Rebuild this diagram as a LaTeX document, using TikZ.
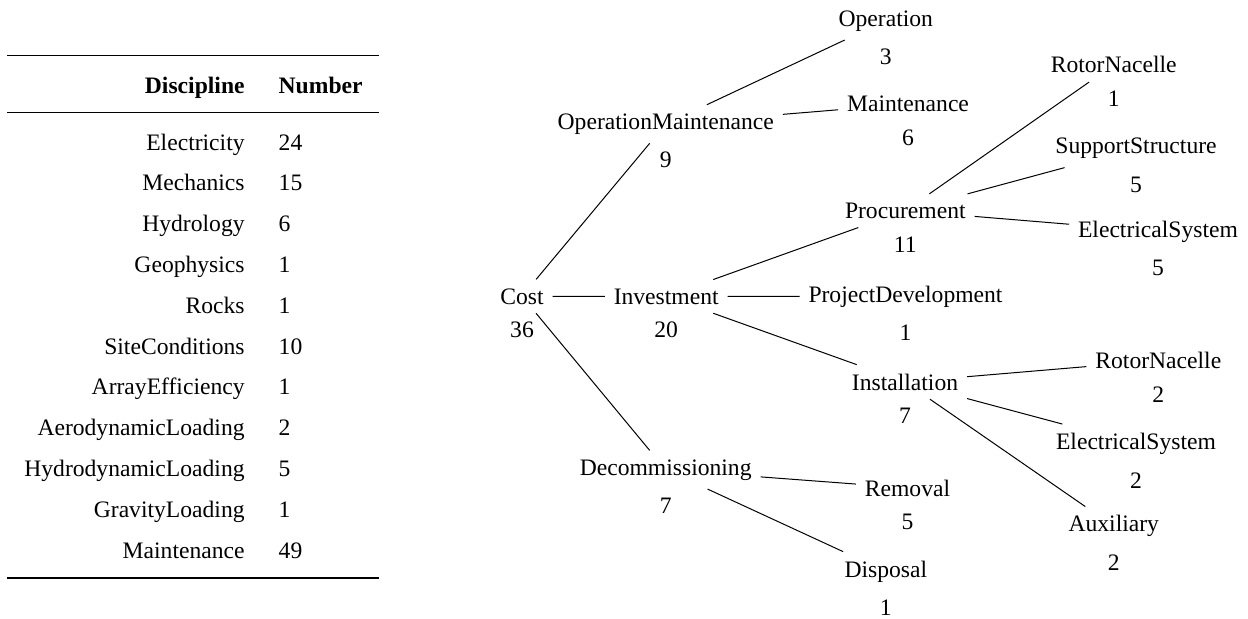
\documentclass[tikz,border=0pt]{standalone}
\usepackage{fontspec}
\setmainfont{Liberation Serif}
\usetikzlibrary{positioning}

\tikzset{
  partnode/.style={inner sep=4.3pt, anchor=base},
  numnode/.style={inner sep=4.3pt},
  cellname/.style={inner sep=0pt, anchor=base east},
  cellnum/.style={inner sep=0pt, anchor=base west},
  treeline/.style={line width=0.5pt}
}

\begin{document}
\begin{tikzpicture}[x=0.5pt, y=-0.5pt, font=\fontsize{11.8}{14}\selectfont]
\useasboundingbox (0,0) rectangle (1248,618);

% table of disciplines
\draw [line width=0.6pt] (7,55.7) -- (379,55.7);
\node (hdisc) [cellname] at (245,93) {\textbf{Discipline}};
\node (hnum) [cellnum] at (278.3,93) {\textbf{Number}};
\draw [line width=0.5pt] (7,112.3) -- (379,112.3);
\node (telec) [cellname] at (245,150) {Electricity};
\node (telecn) [cellnum] at (278.3,150) {24};
\node (tmech) [cellname] at (245,190.8) {Mechanics};
\node (tmechn) [cellnum] at (278.3,190.8) {15};
\node (thydro) [cellname] at (245,231.6) {Hydrology};
\node (thydron) [cellnum] at (278.3,231.6) {6};
\node (tgeo) [cellname] at (245,272.4) {Geophysics};
\node (tgeon) [cellnum] at (278.3,272.4) {1};
\node (trock) [cellname] at (245,313.2) {Rocks};
\node (trockn) [cellnum] at (278.3,313.2) {1};
\node (tsite) [cellname] at (245,354) {SiteConditions};
\node (tsiten) [cellnum] at (278.3,354) {10};
\node (tarray) [cellname] at (245,394.8) {ArrayEfficiency};
\node (tarrayn) [cellnum] at (278.3,394.8) {1};
\node (taero) [cellname] at (245,435.6) {AerodynamicLoading};
\node (taeron) [cellnum] at (278.3,435.6) {2};
\node (thydl) [cellname] at (245,476.4) {HydrodynamicLoading};
\node (thydln) [cellnum] at (278.3,476.4) {5};
\node (tgrav) [cellname] at (245,517.2) {GravityLoading};
\node (tgravn) [cellnum] at (278.3,517.2) {1};
\node (tmaint) [cellname] at (245,558) {Maintenance};
\node (tmaintn) [cellnum] at (278.3,558) {49};
\draw [line width=0.6pt] (7,578) -- (379,578);

% cost tree
\node (cost) [partnode] at (522,304) {Cost};
\node (opmaint) [partnode] at (665.8,129.3) {OperationMaintenance};
\node (invest) [partnode] at (666.2,304) {Investment};
\node (decom) [partnode] at (665.7,475) {Decommissioning};
\node (oper) [partnode] at (885.8,26) {Operation};
\node (maint) [partnode] at (908,111.7) {Maintenance};
\node (proc) [partnode] at (905.3,218.3) {Procurement};
\node (projdev) [partnode] at (905.5,302) {ProjectDevelopment};
\node (inst) [partnode] at (905,390) {Installation};
\node (remove) [partnode] at (907.5,496) {Removal};
\node (dispose) [partnode] at (885.8,577) {Disposal};
\node (procrn) [partnode] at (1113.7,72.9) {RotorNacelle};
\node (procss) [partnode] at (1136,153.6) {SupportStructure};
\node (proces) [partnode] at (1158,237.2) {ElectricalSystem};
\node (instrn) [partnode] at (1158.3,368.6) {RotorNacelle};
\node (instes) [partnode] at (1136,449.4) {ElectricalSystem};
\node (instaux) [partnode] at (1113.8,531.9) {Auxiliary};

% counts under each part
\node (costn) [numnode, below=0pt of cost] {36};
\node (opmaintn) [numnode, below=0pt of opmaint] {9};
\node (investn) [numnode, below=0pt of invest] {20};
\node (decomn) [numnode, below=0pt of decom] {7};
\node (opern) [numnode, below=0pt of oper] {3};
\node (maintn) [numnode, below=0pt of maint] {6};
\node (procn) [numnode, below=0pt of proc] {11};
\node (projdevn) [numnode, below=0pt of projdev] {1};
\node (instn) [numnode, below=0pt of inst] {7};
\node (removen) [numnode, below=0pt of remove] {5};
\node (disposen) [numnode, below=0pt of dispose] {1};
\node (procrnn) [numnode, below=0pt of procrn] {1};
\node (procssn) [numnode, below=0pt of procss] {5};
\node (procesn) [numnode, below=0pt of proces] {5};
\node (instrnn) [numnode, below=0pt of instrn] {2};
\node (instesn) [numnode, below=0pt of instes] {2};
\node (instauxn) [numnode, below=0pt of instaux] {2};

\draw [treeline] (cost) -- (opmaint);
\draw [treeline] (cost) -- (invest);
\draw [treeline] (cost) -- (decom);
\draw [treeline] (opmaint) -- (oper);
\draw [treeline] (opmaint) -- (maint);
\draw [treeline] (invest) -- (proc);
\draw [treeline] (invest) -- (projdev);
\draw [treeline] (invest) -- (inst);
\draw [treeline] (decom) -- (remove);
\draw [treeline] (decom) -- (dispose);
\draw [treeline] (proc) -- (procrn);
\draw [treeline] (proc) -- (procss);
\draw [treeline] (proc) -- (proces);
\draw [treeline] (inst) -- (instrn);
\draw [treeline] (inst) -- (instes);
\draw [treeline] (inst) -- (instaux);
\end{tikzpicture}
\end{document}
